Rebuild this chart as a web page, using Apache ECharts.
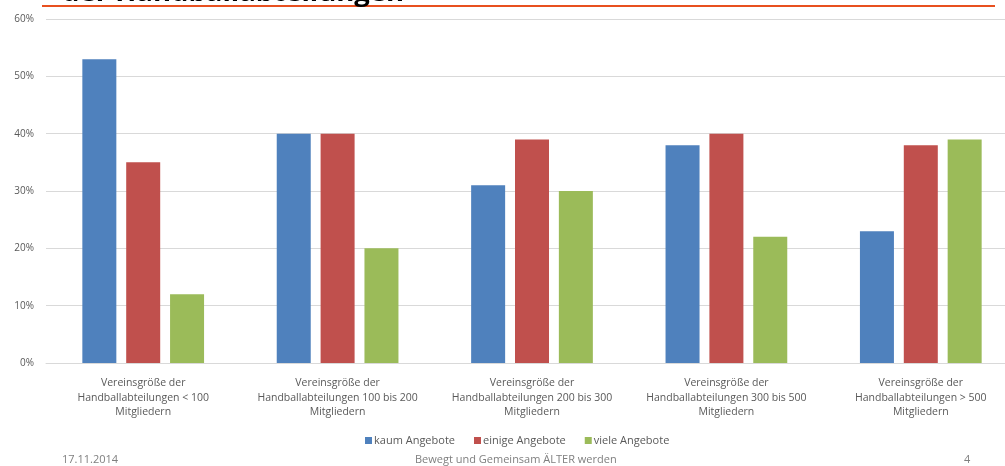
<!DOCTYPE html>
<html>
<head>
<meta charset="utf-8">
<script src="https://cdn.jsdelivr.net/npm/echarts@6/dist/echarts.min.js"></script>
<style>
  html, body { margin: 0; padding: 0; background: #fff; overflow: hidden; }
  #chart { width: 1020px; height: 466px; }
</style>
</head>
<body>
<div id="chart"></div>
<script>
// Club size categories (x axis)
const categories = [
  'Vereinsgröße der\nHandballabteilungen < 100\nMitgliedern',
  'Vereinsgröße der\nHandballabteilungen 100 bis 200\nMitgliedern',
  'Vereinsgröße der\nHandballabteilungen 200 bis 300\nMitgliedern',
  'Vereinsgröße der\nHandballabteilungen 300 bis 500\nMitgliedern',
  'Vereinsgröße der\nHandballabteilungen > 500\nMitgliedern'
];

// Share of clubs per offer level, in percent
const kaumAngebote   = [53, 40, 31, 38, 23];
const einigeAngebote = [35, 40, 39, 40, 38];
const vieleAngebote  = [12, 20, 30, 22, 39];

const seriesNames = ['kaum Angebote', 'einige Angebote', 'viele Angebote'];
const seriesColors = ['#4F81BD', '#C0504D', '#9BBB59'];

// Y axis range in percent
const yMin = 0, yMax = 60, yStep = 10;

const footerDate = '17.11.2014';
const footerTitle = 'Bewegt und Gemeinsam ÄLTER werden';
const footerPage = '4';
const headline = 'der Handballabteilungen';

const font = '"Open Sans", "Liberation Sans", sans-serif';
const chart = echarts.init(document.getElementById('chart'), null, { renderer: 'canvas' });

const seriesData = [kaumAngebote, einigeAngebote, vieleAngebote];

chart.setOption({
  animation: false,
  backgroundColor: '#ffffff',
  grid: { left: 46, top: 19, width: 972, height: 344 },
  legend: {
    data: seriesNames,
    left: 360,
    top: 430,
    itemWidth: 7,
    itemHeight: 7,
    itemGap: 19,
    icon: 'rect',
    textStyle: { fontFamily: font, fontSize: 11, color: '#595959', padding: [0, 0, 0, -3] }
  },
  xAxis: {
    type: 'category',
    data: categories,
    axisLine: { lineStyle: { color: '#D9D9D9', width: 1 } },
    axisTick: { show: false },
    axisLabel: {
      interval: 0,
      margin: 13,
      fontFamily: font,
      fontSize: 10.5,
      lineHeight: 14.5,
      color: '#595959'
    }
  },
  yAxis: {
    type: 'value',
    min: yMin,
    max: yMax,
    interval: yStep,
    axisLine: { show: false },
    axisTick: { show: false },
    splitLine: { lineStyle: { color: '#D9D9D9', width: 1 } },
    axisLabel: {
      formatter: '{value}%',
      margin: 12,
      fontFamily: font,
      fontSize: 10,
      color: '#595959'
    }
  },
  series: seriesNames.map((name, i) => ({
    name,
    type: 'bar',
    data: seriesData[i],
    barWidth: 34,
    barGap: '29%',
    itemStyle: { color: seriesColors[i] }
  })),
  graphic: [
    {
      type: 'text',
      left: 62,
      top: -21,
      z: 1,
      style: {
        text: headline,
        fontFamily: font,
        fontWeight: 'bold',
        fontSize: 27.5,
        fill: '#000000'
      }
    },
    {
      type: 'line',
      z: 0,
      shape: { x1: 42, y1: 6, x2: 995, y2: 6 },
      style: { stroke: '#E8501F', lineWidth: 2 }
    },
    {
      type: 'text',
      left: 62,
      top: 454,
      style: { text: footerDate, fontFamily: font, fontSize: 11, fill: '#7f7f7f' }
    },
    {
      type: 'text',
      left: 415,
      top: 454,
      style: { text: footerTitle, fontFamily: font, fontSize: 11, fill: '#7f7f7f' }
    },
    {
      type: 'text',
      left: 964,
      top: 454,
      style: { text: footerPage, fontFamily: font, fontSize: 11, fill: '#7f7f7f' }
    }
  ]
});
</script>
</body>
</html>
